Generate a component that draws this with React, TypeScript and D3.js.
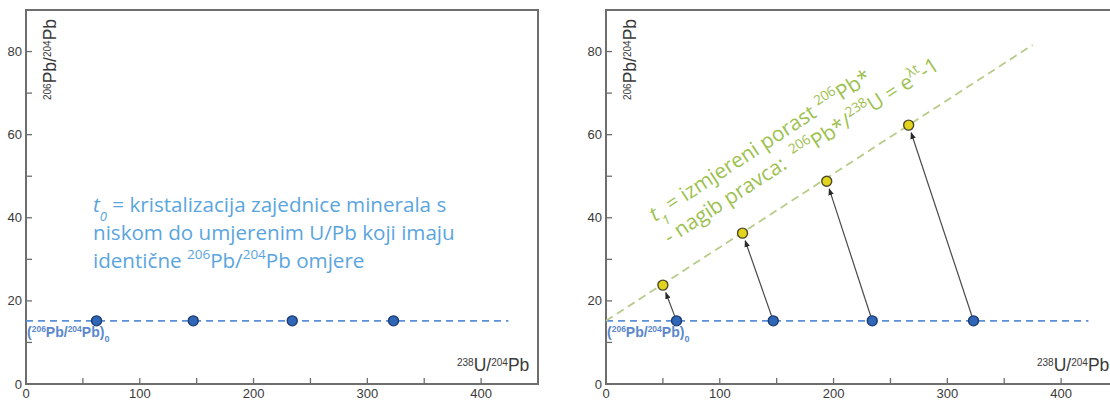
import React from 'react';
import * as d3 from 'd3';

const xTicks = [0, 100, 200, 300, 400];
const xMinor = [50, 150, 250, 350];
const yTicks = [0, 20, 40, 60, 80];
const yMinor = [10, 30, 50, 70];
const initialRatio = 15.2;
const baselineEnd = 424;
const uPbInitial = [62, 147, 234, 323];
const uPbNow = [50, 120, 194, 266];
const pbNow = [23.8, 36.3, 48.8, 62.3];
const isochronEnd = 375;

const AX = '#6e6e6e';
const TXT = '#3a3a3a';
const BLUE_LINE = '#5b8fd8';
const BLUE_TXT = '#5aa5de';
const GREEN_TXT = '#9dc14f';
const GREEN_LINE = '#b8cc8a';
const SANS = 'Liberation Sans, Arial, sans-serif';
const BODY = '"Open Sans", sans-serif';

function Sup({ children, size }: { children: React.ReactNode; size: number }) {
  return (
    <tspan fontSize={size} baselineShift="super">
      {children}
    </tspan>
  );
}

function Panel({ x0, right }: { x0: number; right: boolean }) {
  const x = d3.scaleLinear().domain([0, 450]).range([x0, x0 + 512]);
  const y = d3.scaleLinear().domain([0, 90]).range([384, 10]);
  const slope = (pbNow[3] - initialRatio) / uPbNow[3];
  const iso = d3.line<number>().x((d) => x(d)).y((d) => y(initialRatio + slope * d));
  return (
    <g>
      <rect x={x(0)} y={y(90)} width={x(450) - x(0)} height={y(0) - y(90)} fill="none" stroke={AX} strokeWidth={2} />
      {xTicks.map((t) => (
        <g key={'x' + t}>
          <line x1={x(t)} x2={x(t)} y1={y(0)} y2={y(0) - 6} stroke={AX} strokeWidth={1.3} />
          <text x={x(t)} y={398} textAnchor="middle" fontFamily={SANS} fontSize={13} fill={TXT}>{t}</text>
        </g>
      ))}
      {xMinor.map((t) => (
        <line key={'xm' + t} x1={x(t)} x2={x(t)} y1={y(0)} y2={y(0) - 6} stroke={AX} strokeWidth={1.3} />
      ))}
      {yTicks.map((t) => (
        <g key={'y' + t}>
          <line x1={x(0)} x2={x(0) + 6} y1={y(t)} y2={y(t)} stroke={AX} strokeWidth={1.3} />
          <text x={x(0) - 4} y={y(t) + 4.5} textAnchor="end" fontFamily={SANS} fontSize={13} fill={TXT}>{t}</text>
        </g>
      ))}
      {yMinor.map((t) => (
        <line key={'ym' + t} x1={x(0)} x2={x(0) + 6} y1={y(t)} y2={y(t)} stroke={AX} strokeWidth={1.3} />
      ))}
      <text transform={`translate(${x(0) + 30},100) rotate(-90)`} fontFamily={SANS} fontSize={17.5} fill={TXT}>
        <Sup size={10}>206</Sup>Pb/<Sup size={10}>204</Sup>Pb
      </text>
      <text x={x(0) + 431} y={371} fontFamily={SANS} fontSize={17.5} fill={TXT}>
        <Sup size={10}>238</Sup>U/<Sup size={10}>204</Sup>Pb
      </text>
      <line x1={x(0)} x2={x(baselineEnd)} y1={y(initialRatio)} y2={y(initialRatio)} stroke={BLUE_LINE} strokeWidth={1.8} strokeDasharray="7,5" />
      <text x={x(0) + 1} y={337} fontFamily={SANS} fontWeight="bold" fontSize={14} fill="#5b88cc">
        (<Sup size={8.5}>206</Sup>Pb/<Sup size={8.5}>204</Sup>Pb)<tspan fontSize={9} baselineShift="sub">0</tspan>
      </text>
      {right && (
        <g>
          <path d={iso([0, isochronEnd]) || ''} stroke={GREEN_LINE} strokeWidth={1.8} strokeDasharray="8,5" fill="none" />
          {uPbInitial.map((u, i) => {
            const sx = x(u), sy = y(initialRatio);
            const ex = x(uPbNow[i]), ey = y(pbNow[i]);
            const len = Math.hypot(ex - sx, ey - sy);
            const ux = (ex - sx) / len, uy = (ey - sy) / len;
            return (
              <line key={'a' + i} x1={sx + ux * 4} y1={sy + uy * 4} x2={ex - ux * 8} y2={ey - uy * 8} stroke="#4a4a4a" strokeWidth={1.2} markerEnd="url(#arr)" />
            );
          })}
          {uPbNow.map((u, i) => (
            <circle key={'yp' + i} cx={x(u)} cy={y(pbNow[i])} r={5} fill="#e2d31c" stroke="#4d4a2c" strokeWidth={1.4} />
          ))}
          <text transform={`translate(655,222) rotate(-33)`} fontFamily={BODY} fontSize={20.8} fill={GREEN_TXT}>
            <tspan fontStyle="italic">t</tspan>
            <tspan fontStyle="italic" fontSize={13} baselineShift="sub">1</tspan> = izmjereni porast <Sup size={13.5}>206</Sup>Pb*
          </text>
          <text transform={`translate(655,222) rotate(-33) translate(0,27)`} fontFamily={BODY} fontSize={20.8} fill={GREEN_TXT} xmlSpace="preserve" style={{ whiteSpace: 'pre' }}>
            {'- nagib pravca:  '}<Sup size={13.5}>206</Sup>{'Pb*/'}<Sup size={13.5}>238</Sup>{'U = e'}<Sup size={13.5}>λt</Sup>{'-1'}
          </text>
        </g>
      )}
      {uPbInitial.map((u, i) => (
        <circle key={'bp' + i} cx={x(u)} cy={y(initialRatio)} r={5} fill="#2f66b8" stroke="#1d3c6e" strokeWidth={1.4} />
      ))}
      {!right && (
        <text fontFamily={BODY} fontSize={20.6} fill={BLUE_TXT}>
          <tspan x={93} y={212}>
            <tspan fontStyle="italic">t</tspan>
            <tspan fontStyle="italic" fontSize={13} baselineShift="sub">0</tspan> = kristalizacija zajednice minerala s
          </tspan>
          <tspan x={93} y={240}>niskom do umjerenim U/Pb koji imaju</tspan>
          <tspan x={93} y={268}>
            identične <Sup size={13.5}>206</Sup>Pb/<Sup size={13.5}>204</Sup>Pb omjere
          </tspan>
        </text>
      )}
    </g>
  );
}

export default function App() {
  return (
    <div style={{ position: 'absolute', left: 0, top: 0 }}>
      <svg width={1110} height={400} style={{ display: 'block', background: '#fff' }}>
        <defs>
          <marker id="arr" viewBox="0 0 10 10" refX={9} refY={5} markerWidth={7} markerHeight={7} orient="auto" markerUnits="userSpaceOnUse">
            <path d="M0,1 L10,5 L0,9 Z" fill="#2a2a2a" />
          </marker>
        </defs>
        <Panel x0={26} right={false} />
        <Panel x0={606} right={true} />
      </svg>
    </div>
  );
}
